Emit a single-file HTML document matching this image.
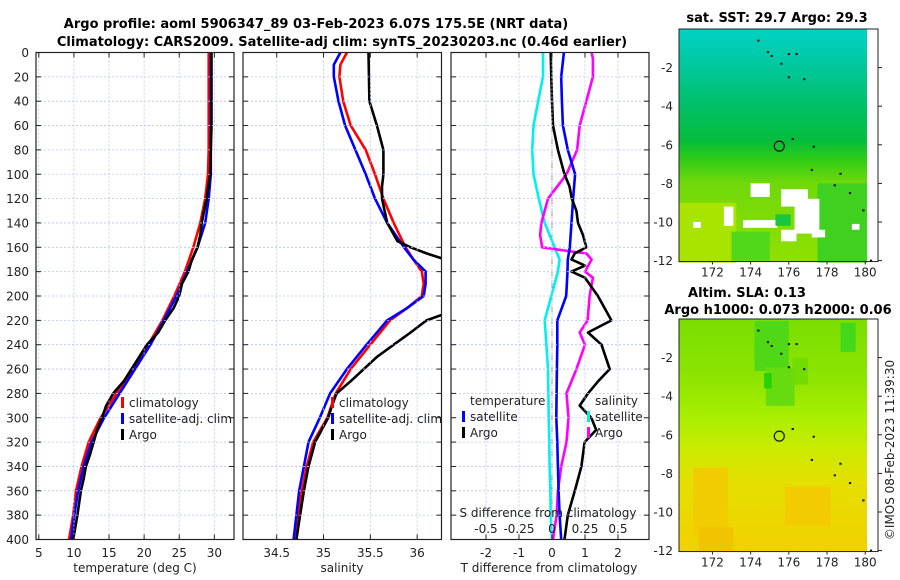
<!DOCTYPE html>
<html><head><meta charset="utf-8"><style>
html,body{margin:0;padding:0;background:#fff;width:900px;height:580px;overflow:hidden}
svg text{font-family:"DejaVu Sans","Liberation Sans",sans-serif;fill:#222}
.t{font-size:12px}
.b{font-size:13px;font-weight:bold;fill:#000}
</style></head><body>
<svg id="chart" width="900" height="580" viewBox="0 0 900 580" xmlns="http://www.w3.org/2000/svg">
<defs>
<linearGradient id="sst" x1="0" y1="0" x2="0" y2="1">
<stop offset="0" stop-color="#00d2c4"/><stop offset="0.15" stop-color="#00c8a0"/>
<stop offset="0.3" stop-color="#00c070"/><stop offset="0.48" stop-color="#04bd3c"/>
<stop offset="0.56" stop-color="#30cc18"/><stop offset="0.66" stop-color="#70d80a"/>
<stop offset="1" stop-color="#90e000"/></linearGradient>
<linearGradient id="sla" x1="0" y1="0" x2="0" y2="1">
<stop offset="0" stop-color="#7ade00"/><stop offset="0.25" stop-color="#8ce400"/>
<stop offset="0.42" stop-color="#a8ee00"/><stop offset="0.55" stop-color="#c8ec00"/>
<stop offset="0.7" stop-color="#e4e000"/><stop offset="1" stop-color="#f2d000"/></linearGradient>
</defs>
</svg>
<script>
// ---------- data ----------
const depths = [0,20,40,60,80,100,120,140,160,180,200,220,240,260,280,300,320,340,360,380,400];
const tempClim = [29.2,29.2,29.2,29.2,29.2,29.1,28.7,28.0,27.0,25.8,24.3,22.6,20.6,18.4,16.1,13.8,12.1,11.1,10.3,9.9,9.3];
const tempSat  = [29.5,29.5,29.5,29.5,29.5,29.5,29.2,28.7,27.6,26.1,24.6,22.8,20.9,18.7,16.5,14.3,12.5,11.4,10.6,10.05,9.6];
const argoDepths = [0,20,40,60,80,100,120,140,150,160,170,180,190,200,210,220,230,240,250,260,270,280,290,300,310,320,330,340,350,360,380,400];
const tempArgo = [29.6,29.6,29.6,29.6,29.5,29.4,28.9,28.2,28.0,27.6,26.8,26.3,25.4,25.0,24.2,23.0,22.0,20.4,19.3,18.2,17.1,15.6,14.6,14.0,13.3,12.8,12.3,11.7,11.4,11.0,10.5,9.9];
const salDepths = [0,10,20,40,60,80,100,120,140,160,170,180,190,200,210,220,240,260,280,300,320,340,360,380,400];
const salClim = [35.25,35.18,35.17,35.21,35.29,35.45,35.55,35.64,35.75,35.875,35.96,36.05,36.07,36.05,35.89,35.71,35.50,35.29,35.13,35.04,34.89,34.82,34.77,34.73,34.71];
const salSat  = [35.18,35.11,35.11,35.16,35.23,35.34,35.45,35.55,35.68,35.86,35.96,36.09,36.09,36.07,35.89,35.68,35.46,35.25,35.07,34.96,34.84,34.79,34.74,34.71,34.68];
const salArgoDepths = [0,40,60,80,100,110,120,140,155,160,165,170,180,200,215,220,230,240,250,260,270,280,290,300,320,340,360,380,400];
const salArgo = [35.48,35.49,35.57,35.64,35.64,35.625,35.625,35.68,35.79,35.93,36.10,36.30,36.45,36.45,36.28,36.10,35.93,35.75,35.57,35.43,35.29,35.14,35.09,35.05,34.91,34.84,34.79,34.75,34.71];
const dDepths = [0,20,40,60,80,100,120,140,160,170,180,200,220,240,260,280,300,320,340,360,380,400];
const dTsat = [0.36,0.28,0.30,0.33,0.48,0.70,0.64,0.59,0.54,0.48,0.47,0.43,0.16,0.16,0.15,0.14,0.13,0.16,0.18,0.20,0.23,0.28];
const dSsat = [-0.068,-0.068,-0.105,-0.14,-0.15,-0.14,-0.10,-0.055,0.02,0.058,0.045,-0.005,-0.055,-0.042,-0.03,-0.027,-0.025,-0.02,-0.018,-0.012,-0.01,0];
const dArgoDepths = [0,20,40,60,80,100,110,120,130,140,150,160,165,170,175,180,185,200,220,230,240,260,270,280,290,300,310,320,340,360,380,400];
const dTargo = [-0.04,-0.02,0,0.03,0.18,0.38,0.53,0.60,0.74,0.79,0.94,1.04,0.69,0.59,1.0,0.59,1.0,1.39,1.80,1.09,1.50,1.75,1.40,1.09,0.84,1.19,1.34,0.99,0.89,0.69,0.48,0.38];
const dSArgoDepths = [0,5,20,40,60,80,100,120,140,150,160,163,165,170,180,185,200,220,230,240,260,280,300,320,340,360,380,400];
const dSargo = [0.30,0.31,0.31,0.26,0.21,0.19,0.11,-0.03,-0.08,-0.09,-0.075,0.12,0.26,0.30,0.25,0.31,0.285,0.27,0.21,0.25,0.185,0.11,0.125,0.11,0.07,0.045,0.035,0.008];
const depthTicks = [0,20,40,60,80,100,120,140,160,180,200,220,240,260,280,300,320,340,360,380,400];
const tTicks = [5,10,15,20,25,30];
const sTicks = [34.5,35,35.5,36];
const dTTicks = [-2,-1,0,1,2];
const dSTicks = [-0.5,-0.25,0,0.25,0.5];
const latTicks = [-2,-4,-6,-8,-10,-12];
const lonTicks = [172,174,176,178,180];

// ---------- helpers ----------
const svg = document.getElementById('chart');
const NS = 'http://www.w3.org/2000/svg';
function el(tag, attrs, parent){const e=document.createElementNS(NS,tag);for(const k in attrs)e.setAttribute(k,attrs[k]);(parent||svg).appendChild(e);return e;}
function txt(s,x,y,cls,anchor,parent){const e=el('text',{x:x,y:y,class:cls,'text-anchor':anchor||'middle'},parent);e.textContent=s;return e;}

const TOP=52.5, BOT=539.5;
const yD = d => TOP + (BOT-TOP)*d/400;
const panels = [
 {name:'temperature-panel',x0:36,x1:234,v0:4.6,v1:32.8},
 {name:'salinity-panel',x0:243,x1:441.5,v0:34.14,v1:36.26},
 {name:'difference-panel',x0:451,x1:649,v0:-3.06,v1:2.94}
];
panels.forEach((p,i)=>{
  p.sx = v => p.x0 + (v-p.v0)/(p.v1-p.v0)*(p.x1-p.x0);
  const cp = el('clipPath',{id:'clip'+i});
  el('rect',{x:p.x0,y:TOP,width:p.x1-p.x0,height:BOT-TOP},cp);
  p.g = el('g',{});
  
  
  p.plot = el('g',{'clip-path':'url(#clip'+i+')'},p.g);
});
function grid(p, ticks, sx){
  ticks.forEach(t=>{const x=sx(t);el('line',{x1:x,x2:x,y1:TOP,y2:BOT,stroke:'#b8c4ee','stroke-width':0.8,'stroke-dasharray':'2,2'},p.g);
    el('line',{x1:x,x2:x,y1:BOT,y2:BOT-5,stroke:'#222'},p.g);el('line',{x1:x,x2:x,y1:TOP,y2:TOP+5,stroke:'#222'},p.g);});
  depthTicks.forEach(d=>{const y=yD(d);el('line',{x1:p.x0,x2:p.x1,y1:y,y2:y,stroke:'#b8c4ee','stroke-width':0.8,'stroke-dasharray':'2,2'},p.g);
    el('line',{x1:p.x0,x2:p.x0+5,y1:y,y2:y,stroke:'#222'},p.g);el('line',{x1:p.x1,x2:p.x1-5,y1:y,y2:y,stroke:'#222'},p.g);});
}
function line(p, xs, ds, color, name, w){
  const pts = xs.map((v,i)=>p.sx(v).toFixed(1)+','+yD(ds[i]).toFixed(1)).join(' ');
  const l = el('polyline',{points:pts,fill:'none',stroke:color,'stroke-width':w||2.6,'stroke-linejoin':'round'},p.plot);
  
  
}
function legend(x,y,color,label,parent){
  el('rect',{x:x,y:y-10,width:3,height:11,fill:color},parent);
  txt(label,x+8,y,'t','start',parent);
}

// panel 1
let p=panels[0];
grid(p,tTicks,p.sx);
line(p,tempClim,depths,'#ff0000','climatology-temp-line');
line(p,tempSat,depths,'#0000ff','satellite-temp-line');
line(p,tempArgo,argoDepths,'#000000','argo-temp-line');
tTicks.forEach(t=>txt(String(t),p.sx(t),557,'t','middle',p.g));
depthTicks.forEach(d=>txt(String(d),29,yD(d)+4.5,'t','end',p.g));
txt('temperature (deg C)',135,572,'t','middle',p.g);
const lg1=el('g',{});
legend(121,407,'#ff0000','climatology',lg1);legend(121,423,'#0000ff','satellite-adj. clim',lg1);legend(121,439,'#000','Argo',lg1);

// panel 2
p=panels[1];
grid(p,sTicks,p.sx);
line(p,salClim,salDepths,'#ff0000','climatology-sal-line');
line(p,salSat,salDepths,'#0000ff','satellite-sal-line');
line(p,salArgo,salArgoDepths,'#000000','argo-sal-line');
sTicks.forEach(t=>txt(String(t),p.sx(t),557,'t','middle',p.g));
txt('salinity',342,572,'t','middle',p.g);
const lg2=el('g',{});
legend(331,407,'#ff0000','climatology',lg2);legend(331,423,'#0000ff','satellite-adj. clim',lg2);legend(331,439,'#000','Argo',lg2);

// panel 3
p=panels[2];
grid(p,dTTicks,p.sx);
el('line',{x1:p.sx(0),x2:p.sx(0),y1:TOP,y2:BOT,stroke:'#333','stroke-width':1,'stroke-dasharray':'1,2'},p.plot);
const sS = v => v*4;
line(p,dSsat.map(sS),dDepths,'#00f0f0','satellite-sdiff-line');
line(p,dSargo.map(sS),dSArgoDepths,'#ff00ff','argo-sdiff-line');
line(p,dTsat,dDepths,'#0000ff','satellite-tdiff-line');
line(p,dTargo,dArgoDepths,'#000000','argo-tdiff-line');
dTTicks.forEach(t=>txt(String(t),p.sx(t),557,'t','middle',p.g));
txt('T difference from climatology',549,572,'t','middle',p.g);
txt('S difference from climatology',548,517,'t','middle',p.g);
dSTicks.forEach(t=>txt(String(t),p.sx(t*4),533,'t','middle',p.g));
const lg3=el('g',{});
txt('temperature',470,405,'t','start',lg3);txt('salinity',595,405,'t','start',lg3);
legend(462,421,'#0000ff','satellite',lg3);legend(462,437,'#000','Argo',lg3);
legend(587,421,'#00f0f0','satellite',lg3);legend(587,437,'#ff00ff','Argo',lg3);

panels.forEach(p=>el('rect',{x:p.x0,y:TOP,width:p.x1-p.x0,height:BOT-TOP,fill:'none',stroke:'#222','stroke-width':1.2},p.g));

// titles
const tg=el('g',{});
txt('Argo profile: aoml 5906347_89 03-Feb-2023 6.07S 175.5E (NRT data)',316,28,'b','middle',tg);
txt('Climatology: CARS2009. Satellite-adj clim: synTS_20230203.nc (0.46d earlier)',342,46,'b','middle',tg);

// maps
const islands=[[174.4,-0.6],[174.9,-1.2],[175.1,-1.4],[175.6,-1.8],[176.0,-1.3],[176.4,-1.3],[176.0,-2.5],[176.8,-2.6],[176.2,-5.7],[177.3,-6.1],[177.2,-7.3],[178.7,-7.5],[178.4,-8.1],[179.2,-8.5],[179.9,-9.4],[180.3,-12]];
function map(name, top, grad, patches, titleLines){
  const g=el('g',{});
  const L=679,R=867,BX=878, lonX=v=>L+(v-170.25)*19.1, latY=v=>top+(-v)*19.3;
  const B=latY(-12.05);
  el('rect',{x:L,y:top,width:R-L,height:B-top,fill:'url(#'+grad+')'},g);
  patches.forEach(pt=>el('rect',{x:lonX(pt[0]),y:latY(pt[1]),width:pt[2]*19.1,height:pt[3]*19.3,fill:pt[4]},g));
  islands.forEach(s=>el('rect',{x:lonX(s[0])-1,y:latY(s[1])-1,width:2.2,height:2,fill:'#111'},g));
  el('circle',{cx:lonX(175.5),cy:latY(-6.07),r:5,fill:'none',stroke:'#111','stroke-width':1.2},g);
  el('rect',{x:L,y:top,width:BX-L,height:B-top,fill:'none',stroke:'#222','stroke-width':1},g);
  latTicks.forEach(v=>{const y=latY(v);txt(String(v),673,y+4.5,'t','end',g);
    el('line',{x1:BX,x2:BX+4,y1:y,y2:y,stroke:'#222'},g);});
  lonTicks.forEach(v=>{const x=lonX(v);txt(String(v),x,B+15,'t','middle',g);
    el('line',{x1:x,x2:x,y1:B,y2:B+3,stroke:'#222'},g);});
  titleLines.forEach(t=>txt(t[0],t[1],t[2],'b','middle',g));
}
map('sst-map',29,'sst',[
 [170.25,-9.0,3,3.1,'#a8e400'],[177.5,-8.0,2.6,4.1,'#40d020'],[173.0,-10.5,2,1.5,'#50d81a'],
 [174.0,-8.0,1.0,0.7,'#ffffff'],[175.6,-8.3,1.4,0.9,'#ffffff'],[176.3,-8.8,1.3,1.8,'#ffffff'],
 [172.6,-9.2,0.5,1.0,'#ffffff'],[173.6,-9.9,1.8,0.4,'#ffffff'],[175.6,-10.4,0.8,0.6,'#ffffff'],
 [177.2,-10.4,0.7,0.4,'#ffffff'],[171.0,-10.0,0.4,0.3,'#ffffff'],[179.3,-10.1,0.4,0.3,'#ffffff'],
 [175.3,-9.6,0.8,0.6,'#18c83a']
],[['sat. SST: 29.7 Argo: 29.3',777,22]]);
map('sla-map',319,'sla',[
 [174.2,-0.1,1.8,2.6,'#50d816'],[178.7,-0.2,0.8,1.5,'#44d81a'],[174.8,-2.5,1.5,2.0,'#66dc10'],
 [174.7,-2.8,0.4,0.8,'#28d200'],[176.2,-2,0.8,1.4,'#70dc00'],[171.0,-7.7,1.8,3.5,'#f0cc00'],
 [175.8,-8.7,2.4,2.0,'#f2cc00'],[171.3,-10.8,1.8,1.2,'#f0c400']
],[['Altim. SLA: 0.13',747,297],['Argo h1000: 0.073 h2000: 0.06',778,314]]);

const cr=txt('\u00a9IMOS 08-Feb-2023 11:39:30',0,0,'t','middle');
cr.setAttribute('transform','translate(894,450) rotate(-90)');


</script>
</body></html>
